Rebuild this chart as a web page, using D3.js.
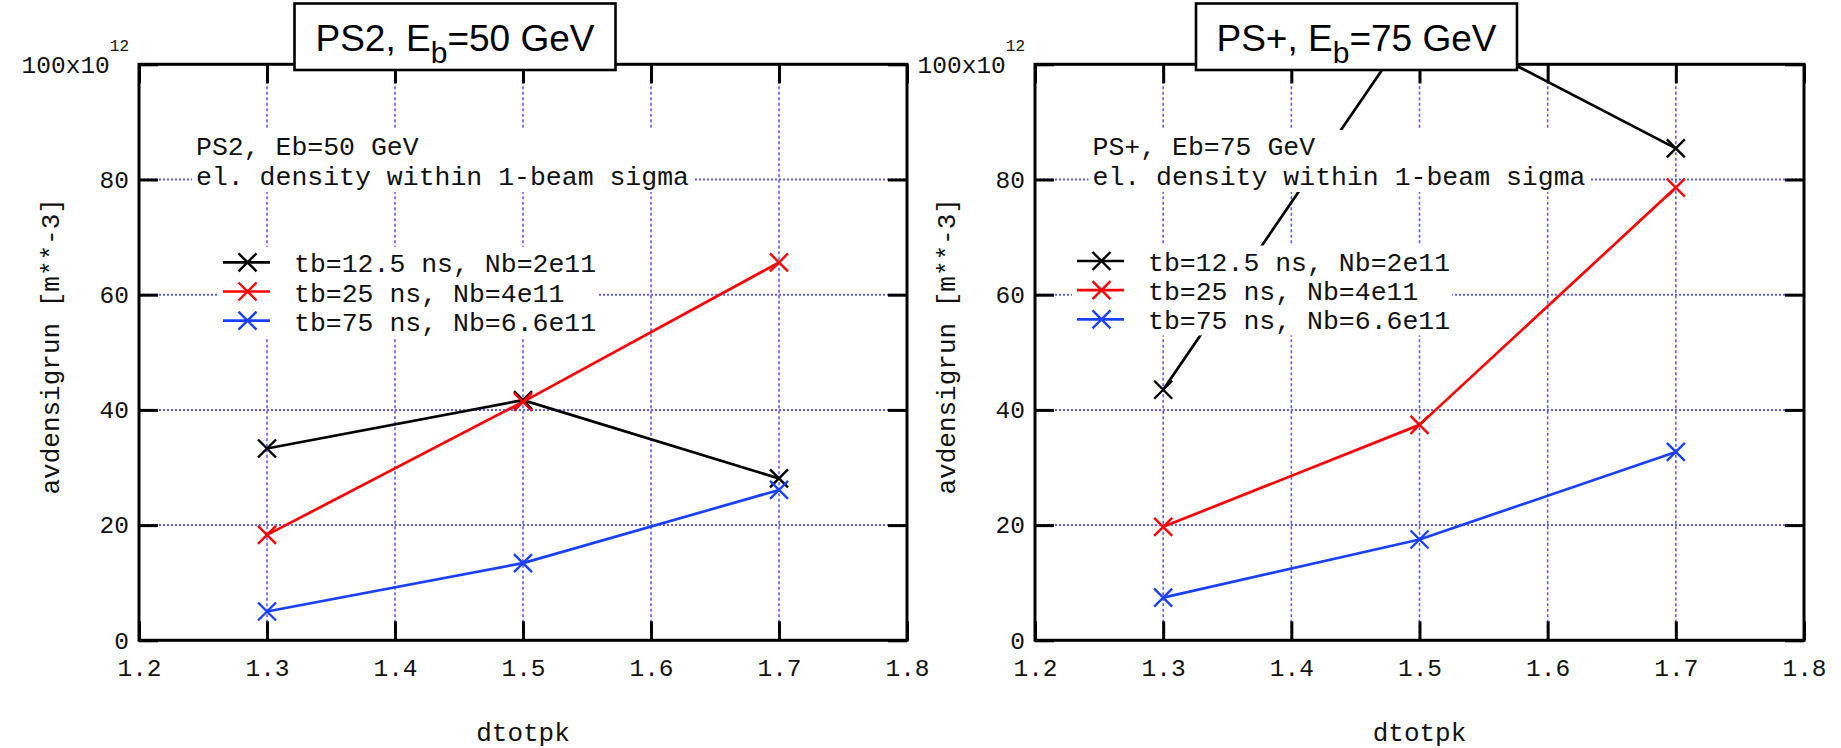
<!DOCTYPE html>
<html><head><meta charset="utf-8">
<script src="https://cdn.jsdelivr.net/npm/d3@7"></script>
<style>body{margin:0;background:#fff} svg{display:block}</style>
</head><body>
<svg id="chart" width="1841" height="748"></svg>
<script>
// ---- data ----
const xTicks = [1.2, 1.3, 1.4, 1.5, 1.6, 1.7, 1.8];
const yTicks = [0, 20, 40, 60, 80, 100];
const gridX = [1.3, 1.4, 1.5, 1.6, 1.7];
const gridY = [20, 40, 60, 80];
const xValues = [1.3, 1.5, 1.7];
const seriesNames = ["tb=12.5 ns, Nb=2e11", "tb=25 ns, Nb=4e11", "tb=75 ns, Nb=6.6e11"];
const seriesColors = ["#000000", "#ff0000", "#1a40ff"];
const ps2_tb125 = [33.3, 41.7, 28.1];
const ps2_tb25  = [18.3, 41.4, 65.6];
const ps2_tb75  = [5.0, 13.4, 26.1];
const psp_tb125 = [43.5, 108.5, 85.4];
const psp_tb25  = [19.7, 37.4, 78.6];
const psp_tb75  = [7.4, 17.5, 32.7];
const titleParts = [["PS2, E", "b", "=50 GeV"], ["PS+, E", "b", "=75 GeV"]];
const noteLines = [["PS2, Eb=50 GeV", "el. density within 1-beam sigma"],
                   ["PS+, Eb=75 GeV", "el. density within 1-beam sigma"]];
const xLabel = "dtotpk";
const yLabel = "avdensigrun [m**-3]";
const yExponent = "12";

// ---- layout ----
const panels = [
  {x0: 139, x1: 907, box: [294.5, 615.5], noteX: 196, legX: 223, legY: 262.3,
   series: [ps2_tb125, ps2_tb25, ps2_tb75]},
  {x0: 1035, x1: 1804, box: [1196, 1517], noteX: 1092.5, legX: 1077, legY: 261,
   series: [psp_tb125, psp_tb25, psp_tb75]}
];
const yBottom = 640.3, yTop = 64.3;
const mono = "'Liberation Mono', 'Courier New', monospace";
const sans = "'Liberation Sans', Arial, Helvetica, sans-serif";
const gridColor = "#5c5cff";

const svg = d3.select("#chart");
svg.append("rect").attr("width", 1841).attr("height", 748).attr("fill", "#fff");

const markerPath = "M-9,-9L9,9M-9,9L9,-9";

panels.forEach((p, pi) => {
  const x = d3.scaleLinear().domain([1.2, 1.8]).range([p.x0, p.x1]);
  const y = d3.scaleLinear().domain([0, 100]).range([yBottom, yTop]);
  const g = svg.append("g");

  // grid
  g.selectAll(".gx").data(gridX).join("line")
    .attr("x1", d => x(d)).attr("x2", d => x(d))
    .attr("y1", yTop).attr("y2", yBottom)
    .attr("stroke", gridColor).attr("stroke-width", 1.6)
    .attr("stroke-dasharray", "3,2.5");
  g.selectAll(".gy").data(gridY).join("line")
    .attr("y1", d => y(d)).attr("y2", d => y(d))
    .attr("x1", p.x0).attr("x2", p.x1)
    .attr("stroke", gridColor).attr("stroke-width", 2)
    .attr("stroke-dasharray", "2,2");

  // series
  const line = d3.line().x(d => x(d[0])).y(d => y(d[1]));
  p.series.forEach((vals, si) => {
    const pts = xValues.map((xv, i) => [xv, vals[i]]);
    g.append("path").datum(pts).attr("d", line)
      .attr("fill", "none").attr("stroke", seriesColors[si]).attr("stroke-width", 2.7)
      .attr("stroke-linejoin", "round");
    g.selectAll(null).data(pts).join("path")
      .attr("transform", d => `translate(${x(d[0])},${y(d[1])})`)
      .attr("d", markerPath).attr("stroke", seriesColors[si]).attr("stroke-width", 2.4)
      .attr("fill", "none");
  });

  // annotation text with white background
  const note = g.append("g");
  const noteBg = note.append("rect").attr("fill", "#fff");
  const noteText = note.append("text").attr("font-family", mono).attr("font-size", 26.5)
    .attr("fill", "#111");
  noteLines[pi].forEach((t, i) => {
    noteText.append("tspan").attr("x", p.noteX).attr("y", 155 + i * 30).text(t);
  });
  const nb = noteText.node().getBBox();
  noteBg.attr("x", nb.x - 4).attr("y", nb.y - 3).attr("width", nb.width + 8).attr("height", nb.height + 2);

  // legend
  const leg = g.append("g");
  const legBg = leg.append("rect").attr("fill", "#fff");
  const rowH = 29.2;
  seriesNames.forEach((name, si) => {
    const ry = p.legY + si * rowH;
    leg.append("line").attr("x1", p.legX).attr("x2", p.legX + 47)
      .attr("y1", ry).attr("y2", ry).attr("stroke", seriesColors[si]).attr("stroke-width", 2.7);
    leg.append("path").attr("transform", `translate(${p.legX + 24.5},${ry})`)
      .attr("d", markerPath).attr("stroke", seriesColors[si]).attr("stroke-width", 2.4);
    leg.append("text").attr("x", p.legX + 71).attr("y", ry + 10)
      .attr("font-family", mono).attr("font-size", 26.5).attr("fill", "#111").text(name);
  });
  const lb = leg.node().getBBox();
  legBg.attr("x", lb.x - 5).attr("y", p.legY - 15.5).attr("width", lb.width + 7)
    .attr("height", rowH * 2 + 31.5);

  // axes
  const tickStyle = sel => {
    sel.select(".domain").remove();
    sel.selectAll(".tick line").attr("stroke", "#000").attr("stroke-width", 3);
    sel.selectAll(".tick text").attr("font-family", mono).attr("font-size", 24.5).attr("fill", "#111");
  };
  g.append("g").attr("transform", `translate(0,${yBottom})`)
    .call(d3.axisBottom(x).tickValues(xTicks).tickFormat(d3.format(".1f")).tickSize(-19).tickPadding(18.5))
    .call(tickStyle);
  g.append("g").attr("transform", `translate(0,${yTop})`)
    .call(d3.axisTop(x).tickValues(xTicks).tickFormat("").tickSize(-19))
    .call(tickStyle);
  const yAx = g.append("g").attr("transform", `translate(${p.x0},0)`)
    .call(d3.axisLeft(y).tickValues(yTicks).tickFormat(d => d === 100 ? "100x10" : d).tickSize(-19).tickPadding(10))
    .call(tickStyle);
  yAx.selectAll(".tick text").filter(d => d === 100)
    .append("tspan").attr("dy", -22).attr("font-size", 16).text(yExponent);
  g.append("g").attr("transform", `translate(${p.x1},0)`)
    .call(d3.axisRight(y).tickValues(yTicks).tickFormat("").tickSize(-19))
    .call(tickStyle);

  // frame
  g.append("rect").attr("x", p.x0).attr("y", yTop).attr("width", p.x1 - p.x0)
    .attr("height", yBottom - yTop).attr("fill", "none").attr("stroke", "#000").attr("stroke-width", 3);

  // axis labels
  g.append("text").attr("x", (p.x0 + p.x1) / 2).attr("y", 741).attr("text-anchor", "middle")
    .attr("font-family", mono).attr("font-size", 26).attr("fill", "#111").text(xLabel);
  g.append("text").attr("transform", `translate(${p.x0 - 80},${(yTop + yBottom) / 2 - 6}) rotate(-90)`)
    .attr("text-anchor", "middle").attr("font-family", mono).attr("font-size", 26)
    .attr("fill", "#111").text(yLabel);

  // title box
  const tb = g.append("g");
  tb.append("rect").attr("x", p.box[0]).attr("y", 3.5).attr("width", p.box[1] - p.box[0])
    .attr("height", 66.5).attr("fill", "#fff").attr("stroke", "#000").attr("stroke-width", 2.6);
  const tt = tb.append("text").attr("x", (p.box[0] + p.box[1]) / 2).attr("y", 50.5)
    .attr("text-anchor", "middle").attr("font-family", sans).attr("font-size", 37).attr("fill", "#000");
  tt.append("tspan").text(titleParts[pi][0]);
  tt.append("tspan").attr("font-size", 30).attr("dy", 12).text(titleParts[pi][1]);
  tt.append("tspan").attr("dy", -12).text(titleParts[pi][2]);
});
</script>
</body></html>
